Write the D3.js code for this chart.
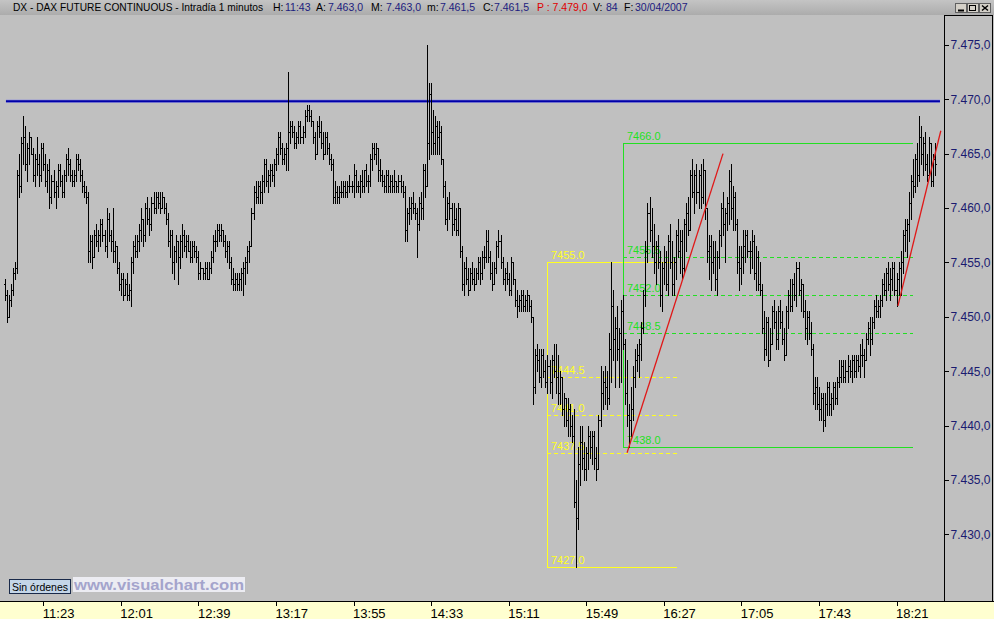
<!DOCTYPE html>
<html><head><meta charset="utf-8">
<script src="https://cdn.jsdelivr.net/npm/d3@7"></script>
<style>
html,body{margin:0;padding:0;background:#c0c0c0;overflow:hidden}
svg{display:block}
text{font-family:Arial,"Liberation Sans",sans-serif}
</style></head><body>
<svg id="c" width="994" height="619"></svg>
<script>
// ---------- DATA ----------
const startMinute = 664; // first bar 11:04, one bar per minute
const opens = [7453,7452,7450,7451.5,7452.5,7454,7454.5,7463,7462,7466,
7466.5,7464,7465.5,7466.5,7465,7463,7464.5,7464,7463,7465.5,
7464,7462.5,7463.5,7461,7462.5,7461.5,7462,7463.5,7462.5,7461.5,
7463,7464.5,7464,7463,7462.5,7463,7464.5,7464,7463,7462,
7461.5,7461,7456,7457,7455.5,7457.5,7457,7457.5,7458.5,7457.5,
7456.5,7459,7457.5,7457,7456,7456.5,7454.5,7453,7453.5,7452,
7453,7452,7452.5,7455,7456.5,7456,7457,7458,7459,7457.5,
7460,7459,7458.5,7460.5,7460,7461,7460.5,7460,7461,7460,
7459,7457,7457.5,7455,7456,7457,7455.5,7457,7457.5,7456.5,
7457,7456,7455.5,7456.5,7456,7455.5,7454,7454.5,7454,7454.5,
7453.5,7454.5,7455.5,7457,7457,7458,7457.5,7458,7457,7456,
7456.5,7455,7453.5,7453,7453.5,7453,7453.5,7454,7454.5,7455,
7456,7456.5,7459.5,7461.5,7461,7462,7461.5,7462.5,7464,7462.5,
7463,7463.5,7463,7464,7465,7466.5,7465.5,7464.5,7465,7465.5,
7467,7467.5,7467,7466,7466.5,7467.5,7466.5,7467,7468.5,7469,
7468.5,7468,7466.5,7465,7467.5,7467,7466,7465,7466.5,7465.5,
7464.5,7464,7461,7461.5,7461,7461.5,7461.5,7462,7461.5,7462,
7462,7462,7463,7462,7462,7462.5,7462,7463.5,7462.5,7462.5,
7464.5,7465.5,7465,7465.5,7463.5,7463,7462.5,7462,7463,7462,
7462.5,7462,7462.5,7462,7462.5,7462,7461.5,7458,7459.5,7460,
7460.5,7460,7459.5,7458.5,7460.5,7460,7463.5,7462,7466,7470.5,
7467,7466,7467.5,7466.5,7467,7464.5,7462,7459,7460.5,7460,
7458.5,7459,7458,7460,7456,7453,7454.5,7453.5,7452.5,7454,
7453.5,7453,7454,7455,7454,7455.5,7455.5,7457,7455.5,7454,
7453,7454.5,7456.5,7457,7455,7453.5,7454,7453.5,7452.5,7455,
7453.5,7451.5,7451,7451.5,7452,7451,7451.5,7452,7451,7450,
7443.5,7446.5,7446,7444.5,7446.5,7445,7444,7445.5,7444,7446,
7445,7444.5,7443,7444.5,7441.5,7442.5,7440.5,7441.5,7440,7439,
7433,7431.5,7436.5,7438.5,7437,7436,7437.5,7439,7438,7439,
7437,7436,7440.5,7443,7444,7443.5,7442.5,7447,7451,7448,
7449,7447,7448.5,7450.5,7447.5,7443,7441,7440.5,7441.5,7444.5,
7446,7446.5,7447.5,7449,7452,7456,7459.5,7458,7456.5,7455,
7456.5,7455,7452,7454.5,7455,7453,7457,7455,7453,7455,
7457.5,7456,7457,7454.5,7458.5,7459.5,7458,7463,7461.5,7463,
7461.5,7463,7461,7463.5,7460,7456,7456.5,7455,7455.5,7453.5,
7455.5,7457.5,7460,7458.5,7459.5,7460.5,7462.5,7460,7461,7458.5,
7455,7454.5,7455.5,7456.5,7457.5,7456,7456,7457,7454,7455.5,
7453,7452.5,7449,7447,7449.5,7446,7447.5,7450.5,7449.5,7448,
7450.5,7449.5,7448,7446.5,7450.5,7452,7451,7453,7452,7454.5,
7452.5,7453,7450.5,7449,7450,7448.5,7447,7443,7443.5,7442,
7441.5,7442.5,7440.5,7442,7443.5,7442,7442.5,7443.5,7442.5,7444,
7444.5,7445.5,7444.5,7445,7445.5,7445,7446,7445,7446,7445.5,
7446.5,7446.5,7446,7448,7449,7448,7449.5,7451,7450.5,7451,
7451.5,7453,7452.5,7454,7453,7453.5,7454.5,7452.5,7453.5,7454.5,
7455,7457.5,7458,7458.5,7460.5,7462.5,7462,7464.5,7463,7466.5,
7465,7466,7464,7463,7466,7462.5,7464.5];
const highs = [7453.5,7452.5,7452,7453,7454.5,7455,7463.5,7465,7466.5,7468.5,
7467.5,7466,7467,7466.5,7465.5,7465,7466.5,7465,7466,7466,
7465,7464,7464.5,7463,7463.5,7462.5,7464,7464,7463,7463.5,
7465,7465.5,7464.5,7463.5,7463.5,7465,7465,7464.5,7463.5,7462.5,
7462,7461.5,7457.5,7457.5,7458,7458.5,7458,7459,7459,7458,
7460,7459.5,7458,7460,7457,7456.5,7455,7454,7454,7453.5,
7454,7453,7455.5,7457,7457.5,7457.5,7458.5,7460,7459,7460.5,
7461,7460,7461,7461.5,7461.5,7461.5,7461.5,7461.5,7461,7460.5,
7459.5,7458,7458,7456.5,7457.5,7457,7457.5,7458.5,7458,7457.5,
7457.5,7457,7457,7457,7456.5,7456,7455,7454.5,7455,7455,
7455,7456,7457.5,7458,7458.5,7458.5,7458.5,7458,7457.5,7457,
7457,7455.5,7454.5,7454,7454,7454,7454.5,7455,7455.5,7456.5,
7457,7460,7462,7462.5,7462.5,7462.5,7463,7464.5,7464.5,7463.5,
7464,7464,7464.5,7465.5,7467,7467,7466,7465.5,7466,7472.5,
7468,7468,7467.5,7467,7468,7468,7467.5,7469,7469.5,7469.5,
7469,7468,7467,7468,7468.5,7468,7467,7467,7467,7466,
7465,7464.5,7462.5,7462,7462,7462.5,7462.5,7462.5,7462.5,7463,
7462.5,7464,7463.5,7462.5,7463,7463.5,7463.5,7464,7463,7465,
7466,7466,7466,7465.5,7464.5,7463.5,7463,7463.5,7463.5,7463,
7463,7463.5,7462.5,7463,7463,7462.5,7462,7460,7461,7461,
7461.5,7460.5,7460,7461,7461.5,7464,7464,7475,7471.5,7471.5,
7469,7468.5,7468,7468,7467.5,7464.5,7462.5,7461,7461.5,7460.5,
7460.5,7460,7460.5,7460,7456.5,7455,7455.5,7454.5,7454.5,7455,
7454.5,7454.5,7455.5,7455.5,7456,7456.5,7458,7458,7456,7455,
7455,7457,7458,7457.5,7455.5,7454.5,7455,7454,7455.5,7455,
7453.5,7452.5,7452,7452.5,7452.5,7452,7452.5,7452,7451.5,7450,
7447,7447.5,7447,7447,7447,7446,7446.5,7446,7446.5,7447.5,
7447.5,7446.5,7445,7444.5,7443,7442.5,7442.5,7442,7441,7441.5,
7435,7438,7440,7440,7438.5,7438,7440,7439.5,7439.5,7439.5,
7438,7441,7445.5,7445,7445.5,7445,7448.5,7455,7452.5,7450,
7451,7449,7451.5,7452,7448,7446,7442,7443.5,7445.5,7447,
7447.5,7448,7449.5,7452.5,7457,7460.5,7461,7460,7458.5,7457,
7457.5,7456,7455,7456.5,7456,7457.5,7458.5,7457,7455.5,7458,
7459,7458,7458,7459,7460.5,7461,7463.5,7464.5,7463.5,7464,
7463.5,7464,7464.5,7463.5,7460,7457.5,7457.5,7457,7457,7456,
7458,7460.5,7461.5,7460,7461,7463.5,7464,7462,7461.5,7459,
7456.5,7456.5,7458,7458,7458,7457,7458,7457.5,7456.5,7456,
7455,7453,7450.5,7450,7450,7449,7451,7451.5,7450.5,7451,
7451.5,7450.5,7449,7451,7452.5,7453.5,7453.5,7454,7455,7455,
7453.5,7453,7451.5,7450.5,7450.5,7449.5,7447.5,7444.5,7444.5,7443.5,
7443,7443,7443,7444,7444,7443,7444,7444,7444.5,7446,
7446,7446,7446,7446.5,7446,7446.5,7446.5,7446.5,7446.5,7447.5,
7448,7447,7448.5,7449.5,7450,7450,7451.5,7452,7451.5,7452,
7453.5,7454,7454.5,7455,7454.5,7455,7455,7454,7455,7456,
7458,7459,7459,7461.5,7463,7464.5,7465,7466,7468.5,7467.5,
7466.5,7467,7465,7466.5,7466,7465,7466];
const lows = [7451.5,7449.5,7450,7451,7452,7453.5,7454,7461,7461.5,7464,
7463.5,7462.5,7464,7465,7462.5,7462,7463,7462,7462.5,7463.5,
7462,7461.5,7460,7460.5,7461,7460,7461,7462,7461,7461,
7462.5,7463,7462.5,7462,7462,7462.5,7463.5,7462.5,7461.5,7461,
7460.5,7455,7455,7454.5,7455.5,7456.5,7456,7456.5,7457,7456,
7455.5,7457,7456,7455,7455,7454,7452.5,7452,7451.5,7452,
7451.5,7451.5,7451,7454,7455.5,7455.5,7456,7457,7456.5,7457,
7458.5,7457.5,7458,7459.5,7459.5,7460,7459.5,7460,7459.5,7458.5,
7456.5,7455.5,7454,7453.5,7455,7453,7454.5,7455.5,7456,7455.5,
7456,7455,7455,7455.5,7455,7453.5,7453.5,7453.5,7453.5,7453.5,
7453.5,7454,7455,7456,7456.5,7457,7457,7456.5,7455.5,7455,
7454.5,7453,7452.5,7452.5,7452.5,7452.5,7452.5,7452,7453,7454,
7455,7456.5,7459,7460.5,7460.5,7460.5,7460.5,7461.5,7462,7461.5,
7462,7462.5,7462,7463.5,7464,7465,7464,7464,7463.5,7463.5,
7466,7466.5,7465.5,7465.5,7466,7466,7466,7466.5,7468,7468,
7467.5,7466,7464.5,7465,7466.5,7465.5,7464.5,7465,7465,7464,
7463.5,7460.5,7460.5,7460.5,7460.5,7461,7461,7461,7461,7461.5,
7461.5,7461,7461.5,7461.5,7461,7461.5,7461.5,7462,7461.5,7462,
7463.5,7464.5,7464,7462.5,7462.5,7462,7461.5,7461.5,7461.5,7461.5,
7461.5,7461.5,7461.5,7461.5,7461.5,7461,7457,7457,7458.5,7459,
7459.5,7459,7455.5,7458,7459,7459,7461,7462,7464.5,7465,
7465,7465,7465,7465,7464,7461,7458.5,7458,7459,7457.5,
7458,7457.5,7457.5,7455.5,7452.5,7452,7453,7452,7452.5,7453,
7452.5,7453,7453.5,7453,7453.5,7454.5,7455,7455,7453.5,7452.5,
7453,7454,7455.5,7454.5,7453,7452.5,7453,7452,7452,7453,
7451,7450,7450.5,7450.5,7450.5,7450.5,7450.5,7450.5,7449.5,7442,
7443,7445,7444,7443.5,7444.5,7443.5,7443,7443,7442.5,7444.5,
7443,7442,7442,7441,7440,7440,7439,7439,7438.5,7432.5,
7427,7430.5,7434.5,7436,7435,7435,7436,7437,7436.5,7436,
7435,7436,7440,7441.5,7442,7441.5,7442,7444,7446,7443.5,
7446,7443.5,7444,7447,7442,7440,7438,7439,7440.5,7443.5,
7445,7444.5,7446,7448.5,7451,7455,7457,7455.5,7454,7453,
7454.5,7451,7450.5,7453,7452.5,7452,7454.5,7452,7452,7453.5,
7455.5,7454,7453.5,7454,7456,7457.5,7458,7461,7459.5,7460.5,
7460,7460,7460.5,7459,7455,7453.5,7452.5,7454,7452.5,7452,
7454.5,7456.5,7457.5,7455,7458,7458.5,7459,7458,7458,7454,
7452.5,7453,7454,7455,7455.5,7454,7454.5,7453.5,7452.5,7452.5,
7452,7448.5,7446,7446.5,7445.5,7446,7447.5,7449,7447,7447,
7449,7447.5,7446,7446.5,7449,7450.5,7450.5,7451.5,7451,7452,
7450.5,7450,7448,7447.5,7448,7446.5,7442,7441.5,7441.5,7440.5,
7440.5,7439.5,7440,7441,7441,7441,7441.5,7442,7442,7443.5,
7444,7444,7444,7444,7444.5,7444,7444.5,7444.5,7445,7444.5,
7445.5,7444.5,7446,7447.5,7446.5,7447.5,7449,7450,7450,7450,
7451,7452,7451.5,7452.5,7451.5,7452.5,7452,7451,7452,7452,
7454,7456,7455.5,7457,7459,7461,7461.5,7462,7462.5,7464,
7463,7463.5,7462.5,7463,7462,7462,7463];
const closes = [7452,7450,7451.5,7452.5,7454,7454.5,7463,7462,7466,7466.5,
7464,7465.5,7466.5,7465,7463,7464.5,7464,7463,7465.5,7464,
7462.5,7463.5,7461,7462.5,7461.5,7462,7463.5,7462.5,7461.5,7463,
7464.5,7464,7463,7462.5,7463,7464.5,7464,7463,7462,7461.5,
7461,7456,7457,7455.5,7457.5,7457,7457.5,7458.5,7457.5,7456.5,
7459,7457.5,7457,7456,7456.5,7454.5,7453,7453.5,7452,7453,
7452,7452.5,7455,7456.5,7456,7457,7458,7459,7457.5,7460,
7459,7458.5,7460.5,7460,7461,7460.5,7460,7461,7460,7459,
7457,7457.5,7455,7456,7457,7455.5,7457,7457.5,7456.5,7457,
7456,7455.5,7456.5,7456,7455.5,7454,7454.5,7454,7454.5,7453.5,
7454.5,7455.5,7457,7457,7458,7457.5,7458,7457,7456,7456.5,
7455,7453.5,7453,7453.5,7453,7453.5,7454,7454.5,7455,7456,
7456.5,7459.5,7461.5,7461,7462,7461.5,7462.5,7464,7462.5,7463,
7463.5,7463,7464,7465,7466.5,7465.5,7464.5,7465,7465.5,7467,
7467.5,7467,7466,7466.5,7467.5,7466.5,7467,7468.5,7469,7468.5,
7468,7466.5,7465,7467.5,7467,7466,7465,7466.5,7465.5,7464.5,
7464,7461,7461.5,7461,7461.5,7461.5,7462,7461.5,7462,7462,
7462,7463,7462,7462,7462.5,7462,7463.5,7462.5,7462.5,7464.5,
7465.5,7465,7465.5,7463.5,7463,7462.5,7462,7463,7462,7462.5,
7462,7462.5,7462,7462.5,7462,7461.5,7458,7459.5,7460,7460.5,
7460,7459.5,7458.5,7460.5,7460,7463.5,7462,7466,7470.5,7467,
7466,7467.5,7466.5,7467,7464.5,7462,7459,7460.5,7460,7458.5,
7459,7458,7460,7456,7453,7454.5,7453.5,7452.5,7454,7453.5,
7453,7454,7455,7454,7455.5,7455.5,7457,7455.5,7454,7453,
7454.5,7456.5,7457,7455,7453.5,7454,7453.5,7452.5,7455,7453.5,
7451.5,7451,7451.5,7452,7451,7451.5,7452,7451,7450,7443.5,
7446.5,7446,7444.5,7446.5,7445,7444,7445.5,7444,7446,7445,
7444.5,7443,7444.5,7441.5,7442.5,7440.5,7441.5,7440,7439,7433,
7431.5,7436.5,7438.5,7437,7436,7437.5,7439,7438,7439,7437,
7436,7440.5,7443,7444,7443.5,7442.5,7447,7451,7448,7449,
7447,7448.5,7450.5,7447.5,7443,7441,7440.5,7441.5,7444.5,7446,
7446.5,7447.5,7449,7452,7456,7459.5,7458,7456.5,7455,7456.5,
7455,7452,7454.5,7455,7453,7457,7455,7453,7455,7457.5,
7456,7457,7454.5,7458.5,7459.5,7458,7463,7461.5,7463,7461.5,
7463,7461,7463.5,7460,7456,7456.5,7455,7455.5,7453.5,7455.5,
7457.5,7460,7458.5,7459.5,7460.5,7462.5,7460,7461,7458.5,7455,
7454.5,7455.5,7456.5,7457.5,7456,7456,7457,7454,7455.5,7453,
7452.5,7449,7447,7449.5,7446,7447.5,7450.5,7449.5,7448,7450.5,
7449.5,7448,7446.5,7450.5,7452,7451,7453,7452,7454.5,7452.5,
7453,7450.5,7449,7450,7448.5,7447,7443,7443.5,7442,7441.5,
7442.5,7440.5,7442,7443.5,7442,7442.5,7443.5,7442.5,7444,7444.5,
7445.5,7444.5,7445,7445.5,7445,7446,7445,7446,7445.5,7446.5,
7446.5,7446,7448,7449,7448,7449.5,7451,7450.5,7451,7451.5,
7453,7452.5,7454,7453,7453.5,7454.5,7452.5,7453.5,7454.5,7455,
7457.5,7458,7458.5,7460.5,7462.5,7462,7464.5,7463,7466.5,7465,
7466,7464,7463,7466,7462.5,7464.5,7464];

const priceTicks = [7430,7435,7440,7445,7450,7455,7460,7465,7470,7475];
const timeTicks = ["11:23","12:01","12:39","13:17","13:55","14:33","15:11","15:49","16:27","17:05","17:43","18:21"];
const resistanceLevel = 7469.8;
const resistanceSpan = ["11:04.7","18:42.3"];
const yellowLevels = [7455.0, 7444.5, 7441.0, 7437.5, 7427.0];
const yellowSpan = ["15:30","16:33.5"];
const greenLevels = [7466.0, 7455.5, 7452.0, 7448.5, 7438.0];
const greenSpan = ["16:07","18:29"];
const redLineTimes = [["16:09","16:56"],["18:21.7","18:42.7"]];
const redLinePrices = [[7437.5,7465.0],[7451.0,7467.1]];
const header = {title:"DX - DAX FUTURE CONTINUOUS - Intradía 1 minutos",H:"11:43",A:"7.463,0",M:"7.463,0",m:"7.461,5",C:"7.461,5",P:"7.479,0",V:"84",F:"30/04/2007"};

// ---------- HELPERS ----------
const toMin = s => { const [h,m] = s.split(":"); return (+h)*60 + (+m); };
const svg = d3.select("#c");
const W = 994, H = 619;
const plotBottom = 601, axisX = 944;

const x = d3.scaleLinear().domain([toMin("11:23"), toMin("18:21")]).range([43.3, 896.5]);
const y = d3.scaleLinear().domain([7427, 7466]).range([567, 142.7]);

const loc = d3.formatLocale({decimal:",", thousands:".", grouping:[3], currency:["",""]});
const fmtPrice = loc.format(",.1f");
const fmtLvl = d3.format(".1f");

// ---------- BACKGROUND ----------
svg.append("rect").attr("x",0).attr("y",0).attr("width",W).attr("height",H).attr("fill","#c0c0c0");
const defs = svg.append("defs");
const g1 = defs.append("linearGradient").attr("id","hdr").attr("x1",0).attr("x2",0).attr("y1",0).attr("y2",1);
g1.append("stop").attr("offset","0%").attr("stop-color","#c4c4c4");
g1.append("stop").attr("offset","100%").attr("stop-color","#acacac");
svg.append("rect").attr("x",0).attr("y",0).attr("width",W).attr("height",15).attr("fill","url(#hdr)");

// bottom time band
svg.append("rect").attr("x",0).attr("y",plotBottom).attr("width",W).attr("height",H-plotBottom).attr("fill","#ffffd0");
svg.append("rect").attr("x",0).attr("y",plotBottom).attr("width",W).attr("height",1).attr("fill","#000");

// right axis panel border
svg.append("rect").attr("x",axisX).attr("y",15).attr("width",1).attr("height",plotBottom-15).attr("fill","#000");
svg.append("rect").attr("x",axisX).attr("y",15).attr("width",W-1-axisX).attr("height",1).attr("fill","#000");
svg.append("rect").attr("x",W-2).attr("y",15).attr("width",1).attr("height",plotBottom-15).attr("fill","#000");

// ---------- DRAWINGS (fib boxes) ----------
function hLine(g, x0, x1, yy, color, dashed){
  if(!dashed){
    g.append("rect").attr("x",x0).attr("y",yy).attr("width",x1-x0).attr("height",1).attr("fill",color);
  } else {
    for(let px=x0; px<x1; px+=7){
      g.append("rect").attr("x",px).attr("y",yy).attr("width",Math.min(4,x1-px)).attr("height",1).attr("fill",color);
    }
  }
}
function fib(levels, span, color){
  const g = svg.append("g").attr("shape-rendering","crispEdges");
  const x0 = Math.round(x(toMin(span[0]))), x1 = Math.round(x(toMin(span[1])));
  const yTop = Math.round(y(levels[0])), yBot = Math.round(y(levels[levels.length-1]));
  g.append("rect").attr("x",x0).attr("y",yTop).attr("width",1).attr("height",yBot-yTop+1).attr("fill",color);
  levels.forEach((v,i)=>{
    const yy = Math.round(y(v));
    const solid = (i===0 || i===levels.length-1);
    hLine(g, x0, x1, yy, color, !solid);
    g.append("text").attr("x",x0+4).attr("y",yy-3).attr("fill",color)
      .attr("font-size","11px").text(fmtLvl(v));
  });
}
fib(yellowLevels, yellowSpan, "#ffff20");
fib(greenLevels, greenSpan, "#22e022");

// resistance line
const yr = y(resistanceLevel);
svg.append("line").attr("x1",x(toMin(resistanceSpan[0]))).attr("x2",x(toMin(resistanceSpan[1])))
  .attr("y1",yr).attr("y2",yr).attr("stroke","#9a9ad8").attr("stroke-width",3.5);
svg.append("line").attr("x1",x(toMin(resistanceSpan[0]))).attr("x2",x(toMin(resistanceSpan[1])))
  .attr("y1",yr).attr("y2",yr).attr("stroke","#0000a8").attr("stroke-width",2);

// ---------- BARS ----------
const bars = closes.map((c,i)=>({t:startMinute+i, o:opens[i], h:highs[i], l:lows[i], c}));
const gb = svg.append("g").attr("fill","#000").attr("shape-rendering","crispEdges");
bars.forEach(b=>{
  const xi = Math.round(x(b.t));
  const yh = Math.round(y(b.h)), yl = Math.round(y(b.l));
  gb.append("rect").attr("x",xi).attr("y",yh).attr("width",1).attr("height",yl-yh+1);
  gb.append("rect").attr("x",xi-1).attr("y",Math.round(y(b.o))).attr("width",1).attr("height",1);
  gb.append("rect").attr("x",xi+1).attr("y",Math.round(y(b.c))).attr("width",1).attr("height",1);
});

// red trend lines
redLineTimes.forEach((ts,i)=>{
  svg.append("line").attr("x1",x(toMin(ts[0]))).attr("x2",x(toMin(ts[1])))
    .attr("y1",y(redLinePrices[i][0])).attr("y2",y(redLinePrices[i][1]))
    .attr("stroke","#e01818").attr("stroke-width",1.3);
});

// ---------- AXES ----------
const yAxis = d3.axisRight(y).tickValues(priceTicks).tickSize(4).tickPadding(2).tickFormat(fmtPrice);
const ga = svg.append("g").attr("transform",`translate(${axisX+0.5},0)`).call(yAxis);
ga.select(".domain").remove();
ga.selectAll("line").attr("stroke","#000").attr("shape-rendering","crispEdges");
ga.selectAll("text").attr("fill","#1a1a70").attr("font-size","12px").attr("font-family","Arial, 'Liberation Sans', sans-serif");

const xAxis = d3.axisBottom(x).tickValues(timeTicks.map(toMin)).tickSize(5)
  .tickFormat(v=>timeTicks[timeTicks.map(toMin).indexOf(v)]);
const gx = svg.append("g").attr("transform",`translate(0,${plotBottom})`).call(xAxis);
gx.select(".domain").remove();
gx.selectAll("line").attr("stroke","#000").attr("shape-rendering","crispEdges");
gx.selectAll("text").attr("text-anchor","start").attr("x",-1).attr("y",16.5).attr("dy",null)
  .attr("fill","#000").attr("font-size","13px").attr("font-family","Arial, 'Liberation Sans', sans-serif");

// ---------- HEADER ----------
const hd = svg.append("g").attr("font-size","10.5px");
const navy = "#1c1c80";
const items = [
  [13, header.title, "#000", 250],
  [273,"H:","#000"],[285,header.H,navy],
  [316,"A:","#000"],[328,header.A,navy],
  [371,"M:","#000"],[386,header.M,navy],
  [427,"m:","#000"],[440,header.m,navy],
  [483,"C:","#000"],[494,header.C,navy],
  [537,"P : "+header.P,"#e00000"],
  [593,"V:","#000"],[606,header.V,navy],
  [624,"F:","#000"],[635,header.F,navy]
];
items.forEach(([px,t,col,len])=>{
  const tx = hd.append("text").attr("x",px).attr("y",11).attr("fill",col).text(t);
  if(len) tx.attr("textLength",len).attr("lengthAdjust","spacingAndGlyphs");
});
// window buttons
[955,967,979].forEach(bx=>{
  svg.append("rect").attr("x",bx+0.5).attr("y",3.5).attr("width",11).attr("height",9)
    .attr("fill","#d4d0c8").attr("stroke","#606060").attr("stroke-width",1).attr("shape-rendering","crispEdges");
});
svg.append("line").attr("x1",958).attr("x2",964).attr("y1",10.5).attr("y2",10.5).attr("stroke","#000").attr("stroke-width",2);
svg.append("rect").attr("x",969.5).attr("y",5.5).attr("width",6).attr("height",5).attr("fill","none").attr("stroke","#000").attr("shape-rendering","crispEdges");
svg.append("path").attr("d","M982,5.5 L988,10.5 M988,5.5 L982,10.5").attr("stroke","#000").attr("stroke-width",1.5);

// ---------- FOOTER BADGES ----------
svg.append("rect").attr("x",9.5).attr("y",579.5).attr("width",61).attr("height",14)
  .attr("fill","#c4d6e8").attr("stroke","#1a2a4a").attr("shape-rendering","crispEdges");
svg.append("text").attr("x",12).attr("y",590.5).attr("font-size","10.5px").attr("fill","#000")
  .attr("textLength",56).attr("lengthAdjust","spacingAndGlyphs").text("Sin órdenes");
svg.append("rect").attr("x",73).attr("y",577).attr("width",172).attr("height",15).attr("fill","#ececf2");
svg.append("text").attr("x",74).attr("y",590).attr("font-size","15px").attr("font-weight","bold")
  .attr("fill","#a4a4cc").attr("textLength",170).attr("lengthAdjust","spacingAndGlyphs").text("www.visualchart.com");
</script>
</body></html>
